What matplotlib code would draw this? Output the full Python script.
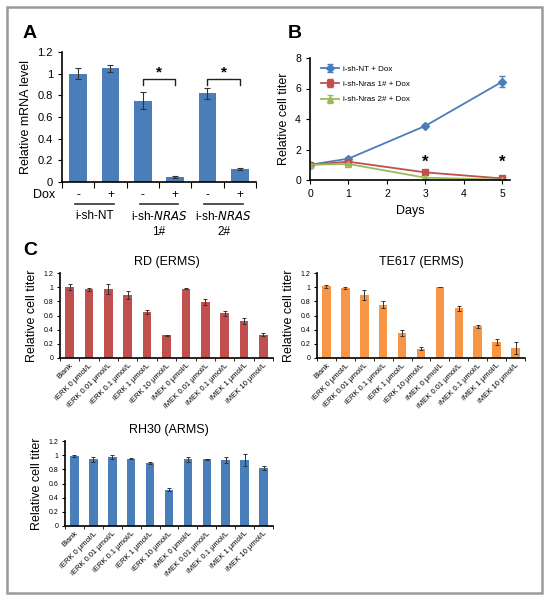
import numpy as np
import matplotlib
matplotlib.use("Agg")
import matplotlib.pyplot as plt
from matplotlib.patches import Rectangle

plt.rcParams['font.family'] = ['Liberation Sans', 'DejaVu Sans']

# ---- data ----
# Panel A
a_values = [1.00, 1.05, 0.75, 0.05, 0.82, 0.12]
a_errors = [0.05, 0.03, 0.08, 0.01, 0.05, 0.01]
a_dox = ['-', '+', '-', '+', '-', '+']
a_groups = ['i-sh-NT', 'i-sh-$\\it{NRAS}$\n1#', 'i-sh-$\\it{NRAS}$\n2#']

# Panel B
b_days = [0, 1, 3, 5]
b_nt = [1.0, 1.4, 3.55, 6.45]
b_nt_err = [0.05, 0.08, 0.1, 0.35]
b_nras1 = [1.0, 1.2, 0.5, 0.1]
b_nras1_err = [0.05, 0.05, 0.05, 0.02]
b_nras2 = [1.0, 1.05, 0.15, 0.02]
b_nras2_err = [0.05, 0.05, 0.03, 0.01]
b_labels = ['i-sh-NT + Dox', 'i-sh-Nras 1# + Dox', 'i-sh-Nras 2# + Dox']

# Panel C
c_labels = ['Blank', 'iERK 0 \u03bcmol/L', 'iERK 0.01 \u03bcmol/L', 'iERK 0.1 \u03bcmol/L',
            'iERK 1 \u03bcmol/L', 'iERK 10 \u03bcmol/L', 'iMEK 0 \u03bcmol/L',
            'iMEK 0.01 \u03bcmol/L', 'iMEK 0.1 \u03bcmol/L', 'iMEK 1 \u03bcmol/L',
            'iMEK 10 \u03bcmol/L']
rd_values = [1.00, 0.97, 0.97, 0.89, 0.65, 0.32, 0.98, 0.79, 0.63, 0.52, 0.33]
rd_errors = [0.04, 0.02, 0.07, 0.05, 0.03, 0.01, 0.01, 0.04, 0.04, 0.04, 0.02]
te_values = [1.01, 0.99, 0.89, 0.75, 0.35, 0.13, 1.00, 0.70, 0.45, 0.23, 0.14]
te_errors = [0.02, 0.01, 0.07, 0.05, 0.04, 0.02, 0.00, 0.04, 0.02, 0.04, 0.08]
rh_values = [0.99, 0.94, 0.97, 0.95, 0.89, 0.51, 0.94, 0.94, 0.93, 0.93, 0.82]
rh_errors = [0.01, 0.03, 0.03, 0.01, 0.01, 0.02, 0.03, 0.01, 0.04, 0.08, 0.03]

BLUE = '#4a7ebb'
RED = '#c0504d'
GREEN = '#9bbb59'
ORANGE = '#f79646'
ERR = '#333333'

W, H = 549, 600
fig = plt.figure(figsize=(W / 100, H / 100), dpi=100)


def px_axes(left, top, right, bottom):
    return fig.add_axes([left / W, 1 - bottom / H, (right - left) / W, (bottom - top) / H])


def style_axes(ax):
    for s in ['top', 'right']:
        ax.spines[s].set_visible(False)
    ax.spines['left'].set_linewidth(1.2)
    ax.spines['bottom'].set_linewidth(1.2)


# outer frame
fig.patches.append(Rectangle((7 / W, 7 / H), 535 / W, 586 / H, transform=fig.transFigure,
                             fill=False, edgecolor='#9a9a9a', linewidth=1.8))

# ---- Panel A ----
ax = px_axes(62, 52, 256, 182)
xa = np.arange(len(a_values))
ax.bar(xa, a_values, width=0.55, color=BLUE, yerr=a_errors, capsize=2,
       error_kw=dict(ecolor=ERR, elinewidth=0.8, capthick=0.8))
ax.set_xlim(-0.5, 5.5)
ax.set_ylim(0, 1.2)
ax.set_yticks(np.arange(0, 1.21, 0.2))
ax.set_yticklabels(['0', '0.2', '0.4', '0.6', '0.8', '1', '1.2'], fontsize=8)
ax.set_xticks(np.arange(-0.5, 5.6, 1))
ax.set_xticklabels([])
ax.tick_params(axis='x', direction='out', length=4)
ax.tick_params(axis='y', direction='out', length=3)
ax.set_ylabel('Relative mRNA level', fontsize=9)
style_axes(ax)
for i, lab in enumerate(a_dox):
    ax.text(xa[i], -0.12, lab, ha='center', va='center', fontsize=8.5,
            transform=ax.transData, clip_on=False)
ax.text(-1.05, -0.12, 'Dox', ha='center', va='center', fontsize=9, clip_on=False)
for g, lab in enumerate(a_groups):
    x0, x1 = 2 * g - 0.1, 2 * g + 1.1
    ax.plot([x0, x1], [-0.2, -0.2], color='#333333', lw=1.2, clip_on=False)
    ax.text(2 * g + 0.5, -0.26, lab, ha='center', va='top', fontsize=8.5,
            linespacing=1.3, clip_on=False)
for g in [1, 2]:
    i0, i1 = 2 * g, 2 * g + 1
    yb = 0.95
    ax.plot([i0, i0, i1, i1], [yb - 0.05, yb, yb, yb - 0.05], color='#222222', lw=1)
    ax.text((i0 + i1) / 2, yb + 0.0, '*', ha='center', va='bottom', fontsize=11, fontweight='bold')
fig.text(23 / W, 1 - 34 / H, 'A', fontsize=14, fontweight='bold', va='center')

# ---- Panel B ----
ax = px_axes(310, 58, 510, 180)
ax.errorbar(b_days, b_nt, yerr=b_nt_err, color=BLUE, marker='D', markersize=4,
            lw=1.3, capsize=2, elinewidth=0.8, label=b_labels[0])
ax.errorbar(b_days, b_nras1, yerr=b_nras1_err, color=RED, marker='s', markersize=4.5,
            lw=1.3, capsize=2, elinewidth=0.8, label=b_labels[1])
ax.errorbar(b_days, b_nras2, yerr=b_nras2_err, color=GREEN, marker='^', markersize=4.5,
            lw=1.3, capsize=2, elinewidth=0.8, label=b_labels[2])
ax.set_xlim(0, 5.2)
ax.set_ylim(0, 8)
ax.set_xticks(range(6))
ax.set_yticks([0, 2, 4, 6, 8])
ax.tick_params(labelsize=7.5, direction='out', length=3)
ax.set_xlabel('Days', fontsize=9)
ax.set_ylabel('Relative cell titer', fontsize=9)
style_axes(ax)
for d in [3, 5]:
    ax.text(d, 0.65, '*', ha='center', va='bottom', fontsize=12, fontweight='bold')
ax.legend(loc='upper left', frameon=False, fontsize=5.8, handlelength=2.2,
          handletextpad=0.5, borderaxespad=0.2, labelspacing=0.95,
          bbox_to_anchor=(0.03, 0.98))
fig.text(288 / W, 1 - 34 / H, 'B', fontsize=14, fontweight='bold', va='center')

# ---- Panel C ----
fig.text(23 / W, 1 - 250 / H, 'C', fontsize=14, fontweight='bold', va='center')


def panel_c(rect, values, errors, color, title):
    ax = px_axes(*rect)
    xc = np.arange(len(values))
    ax.bar(xc, values, width=0.45, color=color, yerr=errors, capsize=1.5,
           error_kw=dict(ecolor=ERR, elinewidth=0.7, capthick=0.7))
    ax.set_xlim(-0.5, len(values) - 0.5)
    ax.set_ylim(0, 1.2)
    ax.set_yticks(np.arange(0, 1.21, 0.2))
    ax.set_yticklabels(['0', '0.2', '0.4', '0.6', '0.8', '1', '1.2'], fontsize=5)
    ax.set_xticks(xc)
    ax.set_xticklabels(c_labels, rotation=45, ha='right', rotation_mode='anchor', fontsize=5.5)
    ax.set_xticks(np.arange(-0.5, len(values), 1), minor=True)
    ax.tick_params(axis='x', which='major', length=0, pad=3)
    ax.tick_params(axis='x', which='minor', length=2.5, direction='out')
    ax.tick_params(axis='y', length=2.5, direction='out', pad=2)
    ax.set_ylabel('Relative cell titer', fontsize=9)
    ax.set_title(title, fontsize=9, pad=6)
    style_axes(ax)
    return ax


panel_c((60, 273, 273, 358), rd_values, rd_errors, RED, 'RD (ERMS)')
panel_c((317, 273, 525, 358), te_values, te_errors, ORANGE, 'TE617 (ERMS)')
panel_c((65, 441, 273, 526), rh_values, rh_errors, BLUE, 'RH30 (ARMS)')

fig.savefig('out.png', dpi=100)
